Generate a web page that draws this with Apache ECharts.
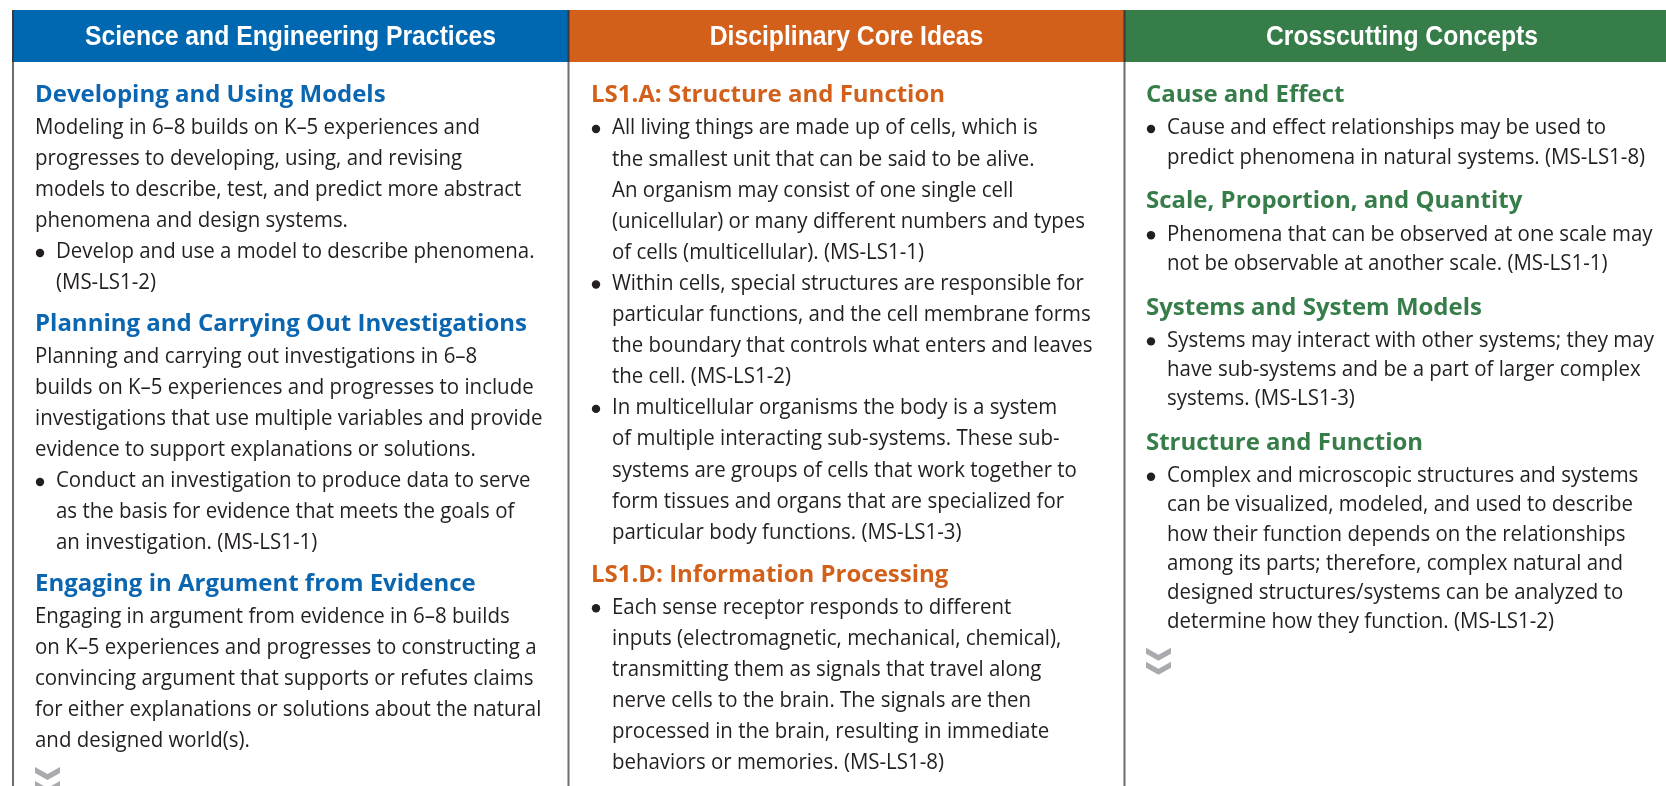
<!DOCTYPE html>
<html>
<head>
<meta charset="utf-8">
<script src="https://cdn.jsdelivr.net/npm/echarts@6/dist/echarts.min.js"></script>
<style>
html,body{margin:0;padding:0;background:#ffffff;}
#chart{width:1666px;height:786px;}
</style>
</head>
<body>
<div id="chart"></div>
<script>
// ---------------- content data ----------------
const headerTitles = ['Science and Engineering Practices', 'Disciplinary Core Ideas', 'Crosscutting Concepts'];

// h = heading, p = paragraph line, b = first line of a bullet, c = continuation line
const practiceItems = [
  ['h', 'Developing and Using Models'],
  ['p', 'Modeling in 6–8 builds on K–5 experiences and'],
  ['p', 'progresses to developing, using, and revising'],
  ['p', 'models to describe, test, and predict more abstract'],
  ['p', 'phenomena and design systems.'],
  ['b', 'Develop and use a model to describe phenomena.'],
  ['c', '(MS-LS1-2)'],
  ['h', 'Planning and Carrying Out Investigations'],
  ['p', 'Planning and carrying out investigations in 6–8'],
  ['p', 'builds on K–5 experiences and progresses to include'],
  ['p', 'investigations that use multiple variables and provide'],
  ['p', 'evidence to support explanations or solutions.'],
  ['b', 'Conduct an investigation to produce data to serve'],
  ['c', 'as the basis for evidence that meets the goals of'],
  ['c', 'an investigation. (MS-LS1-1)'],
  ['h', 'Engaging in Argument from Evidence'],
  ['p', 'Engaging in argument from evidence in 6–8 builds'],
  ['p', 'on K–5 experiences and progresses to constructing a'],
  ['p', 'convincing argument that supports or refutes claims'],
  ['p', 'for either explanations or solutions about the natural'],
  ['p', 'and designed world(s).'],
  ['more', '']
];

const coreIdeaItems = [
  ['h', 'LS1.A: Structure and Function'],
  ['b', 'All living things are made up of cells, which is'],
  ['c', 'the smallest unit that can be said to be alive.'],
  ['c', 'An organism may consist of one single cell'],
  ['c', '(unicellular) or many different numbers and types'],
  ['c', 'of cells (multicellular). (MS-LS1-1)'],
  ['b', 'Within cells, special structures are responsible for'],
  ['c', 'particular functions, and the cell membrane forms'],
  ['c', 'the boundary that controls what enters and leaves'],
  ['c', 'the cell. (MS-LS1-2)'],
  ['b', 'In multicellular organisms the body is a system'],
  ['c', 'of multiple interacting sub-systems. These sub-'],
  ['c', 'systems are groups of cells that work together to'],
  ['c', 'form tissues and organs that are specialized for'],
  ['c', 'particular body functions. (MS-LS1-3)'],
  ['h', 'LS1.D: Information Processing'],
  ['b', 'Each sense receptor responds to different'],
  ['c', 'inputs (electromagnetic, mechanical, chemical),'],
  ['c', 'transmitting them as signals that travel along'],
  ['c', 'nerve cells to the brain. The signals are then'],
  ['c', 'processed in the brain, resulting in immediate'],
  ['c', 'behaviors or memories. (MS-LS1-8)']
];

const crosscuttingItems = [
  ['h', 'Cause and Effect'],
  ['b', 'Cause and effect relationships may be used to'],
  ['c', 'predict phenomena in natural systems. (MS-LS1-8)'],
  ['h', 'Scale, Proportion, and Quantity'],
  ['b', 'Phenomena that can be observed at one scale may'],
  ['c', 'not be observable at another scale. (MS-LS1-1)'],
  ['h', 'Systems and System Models'],
  ['b', 'Systems may interact with other systems; they may'],
  ['c', 'have sub-systems and be a part of larger complex'],
  ['c', 'systems. (MS-LS1-3)'],
  ['h', 'Structure and Function'],
  ['b', 'Complex and microscopic structures and systems'],
  ['c', 'can be visualized, modeled, and used to describe'],
  ['c', 'how their function depends on the relationships'],
  ['c', 'among its parts; therefore, complex natural and'],
  ['c', 'designed structures/systems can be analyzed to'],
  ['c', 'determine how they function. (MS-LS1-2)'],
  ['more', '']
];

// ---------------- layout & style ----------------
const W = 1666, H = 786;
const headerColors = ['#0067B1', '#D2601A', '#367D49'];
const headingColors = ['#0A66B0', '#D2601A', '#367D49'];
const bodyColor = '#231F20';
const colEdges = [13, 568.5, 1124.5, W];
const headerTop = 10, headerBottom = 62;
const headerCenters = [290.5, 846.5, 1402];
const colTextX = [35, 591, 1146];
const colStep = [31, 31.1, 29.2];
const colLineToHead = [42, 43, 45];
const firstBaseline = 104;
const headToLine = 32;

const ctx = document.createElement('canvas').getContext('2d');
function measure(text, font) { ctx.font = font; return ctx.measureText(text).width; }

const headerFont = 'bold 28px "Liberation Sans", Arial, sans-serif';
const headingFont = 'bold 23px "Open Sans", sans-serif';
const bodyFont = '21px "Open Sans", sans-serif';
const headerScale = 411 / measure(headerTitles[0], headerFont);
const headingScale = 350.6 / measure(practiceItems[0][1], headingFont);
const bodyScale = 445 / measure(practiceItems[1][1], bodyFont);

const els = [];
// header bands
for (let i = 0; i < 3; i++) {
  els.push({
    type: 'rect', silent: true,
    shape: { x: colEdges[i], y: headerTop, width: colEdges[i + 1] - colEdges[i], height: headerBottom - headerTop },
    style: { fill: headerColors[i] }
  });
  els.push({
    type: 'text', silent: true, x: headerCenters[i], y: (headerTop + headerBottom) / 2 + 1, scaleX: headerScale,
    style: { text: headerTitles[i], font: headerFont, fill: '#ffffff', align: 'center', verticalAlign: 'middle', textAlign: 'center', textVerticalAlign: 'middle' }
  });
}
// vertical rules
[13, 568.5, 1124.5].forEach(function (x) {
  els.push({ type: 'line', silent: true, shape: { x1: x, y1: headerTop, x2: x, y2: headerBottom }, style: { stroke: '#3a3a3a', lineWidth: 2 } });
  els.push({ type: 'line', silent: true, shape: { x1: x, y1: headerBottom, x2: x, y2: H }, style: { stroke: '#6d6d6d', lineWidth: 2 } });
});

function chevron(x, y) {
  const w = 25, d = 7, t = 6;
  [0, 14].forEach(function (dy) {
    els.push({
      type: 'polygon', silent: true,
      shape: { points: [[x, y + dy], [x + w / 2, y + dy + d], [x + w, y + dy], [x + w, y + dy + t], [x + w / 2, y + dy + d + t], [x, y + dy + t]] },
      style: { fill: '#A8AAAD' }
    });
  });
}

function textEl(x, baseline, text, font, scale, color) {
  const size = parseFloat(font.match(/(\d+(\.\d+)?)px/)[1]);
  els.push({
    type: 'text', silent: true, x: x, y: baseline - size * 0.36, scaleX: scale,
    style: { text: text, font: font, fill: color, align: 'left', verticalAlign: 'middle', textAlign: 'left', textVerticalAlign: 'middle' }
  });
}

[practiceItems, coreIdeaItems, crosscuttingItems].forEach(function (items, ci) {
  const x0 = colTextX[ci];
  const step = colStep[ci];
  let y = null;
  items.forEach(function (it) {
    const kind = it[0];
    if (kind === 'h') {
      y = (y === null) ? firstBaseline : y - step + colLineToHead[ci];
      textEl(x0, y, it[1], headingFont, headingScale, headingColors[ci]);
      y += headToLine;
    } else if (kind === 'more') {
      chevron(x0, y - step + 18);
    } else {
      const indent = (kind === 'p') ? 0 : 21;
      if (kind === 'b') {
        els.push({ type: 'circle', silent: true, shape: { cx: x0 + 5, cy: y - 7, r: 4.2 }, style: { fill: bodyColor } });
      }
      textEl(x0 + indent, y, it[1], bodyFont, bodyScale, bodyColor);
      y += step;
    }
  });
});

const chart = echarts.init(document.getElementById('chart'), null, { renderer: 'canvas', width: W, height: H });
chart.setOption({ animation: false, graphic: { elements: els } });
</script>
</body>
</html>
